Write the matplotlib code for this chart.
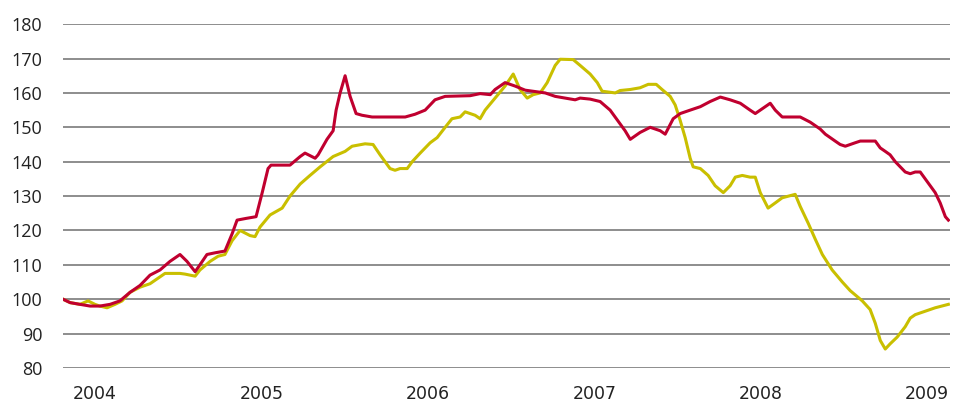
import matplotlib
matplotlib.use("Agg")
import matplotlib.pyplot as plt

# Decimal-year positions and index values
red_t = [2003.808, 2003.851, 2003.910, 2003.971, 2004.030, 2004.091, 2004.150, 2004.211,
         2004.271, 2004.331, 2004.391, 2004.451, 2004.511, 2004.553, 2004.602, 2004.631,
         2004.673, 2004.722, 2004.781, 2004.824, 2004.854, 2004.908, 2004.968, 2005.005,
         2005.040, 2005.058, 2005.172, 2005.233, 2005.262, 2005.323, 2005.341, 2005.394,
         2005.431, 2005.449, 2005.473, 2005.503, 2005.533, 2005.569, 2005.605, 2005.665,
         2005.864, 2005.923, 2005.984, 2006.043, 2006.104, 2006.254, 2006.314, 2006.375,
         2006.404, 2006.464, 2006.524, 2006.585, 2006.705, 2006.765, 2006.825, 2006.885,
         2006.915, 2006.975, 2007.035, 2007.095, 2007.155, 2007.185, 2007.216, 2007.275,
         2007.336, 2007.396, 2007.426, 2007.474, 2007.516, 2007.576, 2007.637, 2007.696,
         2007.757, 2007.816, 2007.877, 2007.936, 2007.967, 2008.027, 2008.057, 2008.087,
         2008.129, 2008.237, 2008.297, 2008.357, 2008.388, 2008.447, 2008.477, 2008.508,
         2008.567, 2008.598, 2008.688, 2008.718, 2008.748, 2008.777, 2008.808, 2008.868,
         2008.898, 2008.928, 2008.958, 2008.988, 2009.048, 2009.078, 2009.109, 2009.127]
red_v = [100, 99, 98.5, 98, 98, 98.5, 99.5, 102,
         104, 107, 108.5, 111, 113, 111, 108, 110,
         113, 113.5, 114, 119, 123, 123.5, 124, 131,
         138, 139, 139, 141.5, 142.5, 141, 142, 146.5,
         149, 155, 160, 165, 159, 154, 153.5, 153,
         153, 153.8, 155, 158, 159, 159.2, 159.8, 159.5,
         161, 163, 162, 160.8, 160, 159, 158.5, 158,
         158.5, 158.2, 157.5, 155, 151, 149, 146.5, 148.5,
         150, 149, 148, 152.5, 154, 155, 156, 157.5,
         158.8, 158, 157, 155, 154, 156, 157, 155,
         153, 153, 151.5, 149.5, 148, 146, 145, 144.5,
         145.5, 146, 146, 144, 143, 142, 140, 137,
         136.5, 137, 137, 135, 131, 128, 124, 123]

yel_t = [2003.808, 2003.851, 2003.910, 2003.959, 2004.000, 2004.030, 2004.073, 2004.121,
         2004.163, 2004.211, 2004.271, 2004.331, 2004.391, 2004.421, 2004.511, 2004.541,
         2004.571, 2004.602, 2004.631, 2004.692, 2004.740, 2004.781, 2004.824, 2004.872,
         2004.932, 2004.962, 2004.992, 2005.052, 2005.125, 2005.172, 2005.233, 2005.292,
         2005.353, 2005.431, 2005.503, 2005.545, 2005.623, 2005.671, 2005.713, 2005.773,
         2005.803, 2005.833, 2005.876, 2005.906, 2005.954, 2006.014, 2006.056, 2006.104,
         2006.145, 2006.194, 2006.224, 2006.284, 2006.314, 2006.344, 2006.404, 2006.464,
         2006.513, 2006.554, 2006.597, 2006.633, 2006.675, 2006.717, 2006.765, 2006.795,
         2006.873, 2006.915, 2006.975, 2007.018, 2007.047, 2007.126, 2007.155, 2007.216,
         2007.275, 2007.324, 2007.372, 2007.407, 2007.456, 2007.486, 2007.516, 2007.546,
         2007.576, 2007.594, 2007.637, 2007.684, 2007.726, 2007.775, 2007.816, 2007.847,
         2007.889, 2007.936, 2007.967, 2007.997, 2008.044, 2008.087, 2008.129, 2008.207,
         2008.237, 2008.286, 2008.327, 2008.370, 2008.429, 2008.490, 2008.537, 2008.610,
         2008.657, 2008.688, 2008.718, 2008.748, 2008.777, 2008.820, 2008.868, 2008.898,
         2008.928, 2008.988, 2009.048, 2009.127]
yel_v = [100, 99, 98.5, 99.5, 98.5, 98, 97.5, 98.5,
         99.5, 102, 103.5, 104.5, 106.5, 107.5, 107.5, 107.3,
         107, 106.7, 108.5, 111, 112.5, 113, 117, 120,
         118.5, 118.2, 121, 124.5, 126.5, 130, 133.5, 136,
         138.5, 141.5, 143, 144.5, 145.2, 145, 142, 138,
         137.5, 138, 138, 140, 142.5, 145.5, 147, 150,
         152.5, 153, 154.5, 153.5, 152.5, 155, 158.5, 162,
         165.5, 161, 158.5, 159.5, 160, 163, 168, 169.8,
         169.7, 168, 165.5, 163, 160.5, 160, 160.7, 161,
         161.5, 162.5, 162.5, 161, 159, 156.5, 152, 147,
         141, 138.5, 138, 136, 133, 131, 133, 135.5,
         136, 135.5, 135.5, 131, 126.5, 128, 129.5, 130.5,
         127, 122, 117.5, 113, 108.5, 105, 102.5, 99.5,
         97, 93, 88, 85.5, 87, 89, 92, 94.5,
         95.5, 96.5, 97.5, 98.5]

years = [2004, 2005, 2006, 2007, 2008, 2009]
yticks = [80, 90, 100, 110, 120, 130, 140, 150, 160, 170, 180]

fig = plt.figure(figsize=(9.54, 4.03), dpi=100)
ax = fig.add_axes([0.066, 0.087, 0.930, 0.853])

for y in yticks:
    ax.axhline(y, color="#858585", lw=1.3, zorder=1)

ax.plot(yel_t, yel_v, color="#C9BF00", lw=2.2, zorder=3, solid_joinstyle="round")
ax.plot(red_t, red_v, color="#C0002F", lw=2.2, zorder=4, solid_joinstyle="round")

ax.set_xlim(2003.808, 2009.138)
ax.set_ylim(80, 180)
ax.set_yticks(yticks)
ax.set_yticklabels([str(v) for v in yticks])
ax.set_xticks(years)
ax.set_xticklabels([str(y) for y in years])
ax.tick_params(axis="both", length=0, colors="#222222")
ax.tick_params(axis="y", pad=15, labelsize=13)
ax.tick_params(axis="x", pad=12, labelsize=12.5)
for lab in ax.get_yticklabels():
    lab.set_fontfamily("Open Sans")
for lab in ax.get_xticklabels():
    lab.set_fontfamily("DejaVu Sans")
for s in ax.spines.values():
    s.set_visible(False)

fig.savefig("out.png", dpi=100)
